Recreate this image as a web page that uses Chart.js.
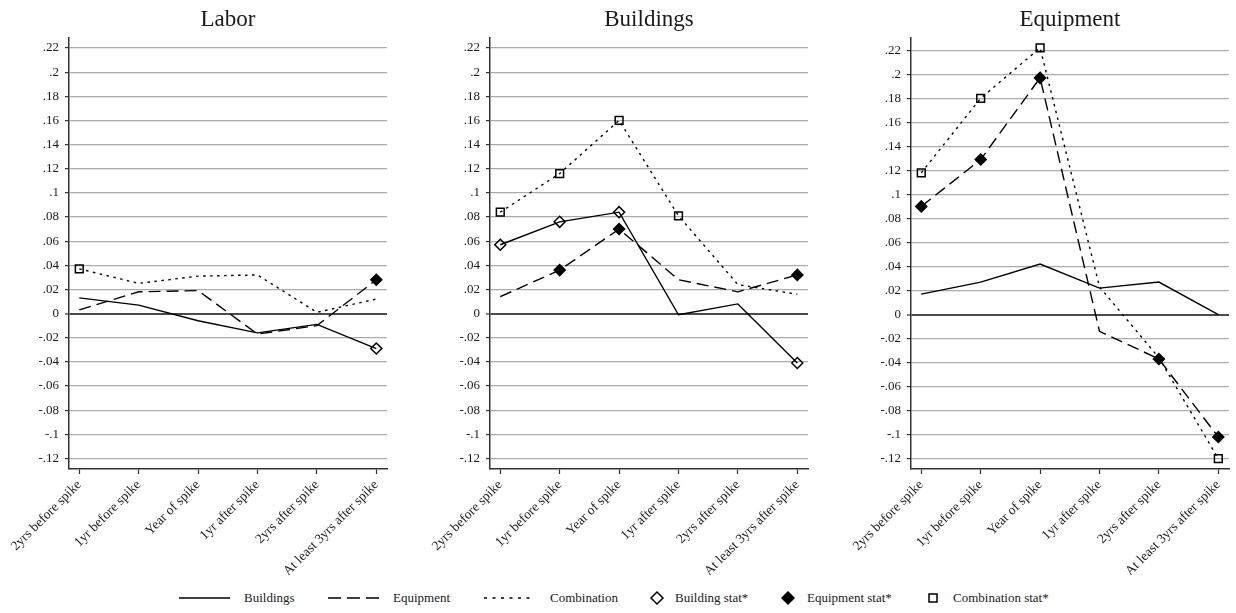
<!DOCTYPE html>
<html>
<head>
<meta charset="utf-8">
<script src="https://cdn.jsdelivr.net/npm/chart.js@4.4.0/dist/chart.umd.min.js"></script>
<style>
  body { margin: 0; background: #fff; width: 1236px; height: 613px; position: relative; overflow: hidden; font-family: "Liberation Serif", "Times New Roman", serif; color: #1a1a1a; }
  canvas.panel { position: absolute; top: 0; }
  #legend { position: absolute; left: 0; top: 588px; width: 1236px; height: 20px; }
  #legend span { position: absolute; top: 0; line-height: 20px; font-size: 13px; white-space: nowrap; }
  #legend svg { position: absolute; left: 0; top: 0; }
</style>
</head>
<body>
<canvas id="labor" class="panel" width="394" height="575" style="left:0px"></canvas>
<canvas id="buildings" class="panel" width="394" height="575" style="left:421px"></canvas>
<canvas id="equipment" class="panel" width="394" height="575" style="left:842px"></canvas>

<div id="legend">
  <svg width="1236" height="20">
    <line x1="179" y1="10" x2="230" y2="10" stroke="#000" stroke-width="1.6"/>
    <line x1="328" y1="10" x2="380" y2="10" stroke="#000" stroke-width="1.6" stroke-dasharray="13 6"/>
    <line x1="484" y1="10" x2="534" y2="10" stroke="#000" stroke-width="1.6" stroke-dasharray="3 5.5"/>
    <polygon points="657,4 663,10 657,16 651,10" fill="none" stroke="#000" stroke-width="1.5"/>
    <polygon points="788,4 794,10 788,16 782,10" fill="#000" stroke="#000" stroke-width="1.5"/>
    <rect x="929" y="6" width="8" height="8" fill="none" stroke="#000" stroke-width="1.5"/>
  </svg>
  <span style="left:244px">Buildings</span>
  <span style="left:393px">Equipment</span>
  <span style="left:550px">Combination</span>
  <span style="left:675px">Building stat*</span>
  <span style="left:807px">Equipment stat*</span>
  <span style="left:953px">Combination stat*</span>
</div>

<script>
// time relative to the spike
const periods = ["2yrs before spike", "1yr before spike", "Year of spike",
                 "1yr after spike", "2yrs after spike", "At least 3yrs after spike"];
const yTicks = [-0.12, -0.1, -0.08, -0.06, -0.04, -0.02, 0, 0.02, 0.04, 0.06,
                0.08, 0.1, 0.12, 0.14, 0.16, 0.18, 0.2, 0.22];

// Labor
const laborBuildings   = [0.013, 0.007, -0.006, -0.016, -0.009, -0.029];
const laborEquipment   = [0.003, 0.018, 0.019, -0.017, -0.010, 0.028];
const laborCombination = [0.037, 0.025, 0.031, 0.032, 0.001, 0.012];
const laborBuildingSig    = [0, 0, 0, 0, 0, 1];
const laborEquipmentSig   = [0, 0, 0, 0, 0, 1];
const laborCombinationSig = [1, 0, 0, 0, 0, 0];

// Buildings
const bldgBuildings   = [0.057, 0.076, 0.084, -0.001, 0.008, -0.041];
const bldgEquipment   = [0.014, 0.036, 0.070, 0.028, 0.018, 0.032];
const bldgCombination = [0.084, 0.116, 0.160, 0.081, 0.024, 0.016];
const bldgBuildingSig    = [1, 1, 1, 0, 0, 1];
const bldgEquipmentSig   = [0, 1, 1, 0, 0, 1];
const bldgCombinationSig = [1, 1, 1, 1, 0, 0];

// Equipment
const equipBuildings   = [0.017, 0.027, 0.042, 0.022, 0.027, 0.000];
const equipEquipment   = [0.090, 0.129, 0.197, -0.014, -0.037, -0.102];
const equipCombination = [0.118, 0.180, 0.222, 0.023, -0.036, -0.120];
const equipBuildingSig    = [0, 0, 0, 0, 0, 0];
const equipEquipmentSig   = [1, 1, 1, 0, 1, 1];
const equipCombinationSig = [1, 1, 1, 0, 0, 1];

const FONT = '"Liberation Serif", "Times New Roman", serif';
const INK = '#1a1a1a';

// stata style: .22, -.12, 0
function fmtTick(v) {
  return String(v).replace('0.', '.');
}

function lineSet(label, vals, dash) {
  return {
    label: label,
    data: vals.map((v, i) => ({ x: i, y: v })),
    borderColor: '#000',
    borderWidth: 1.4,
    borderDash: dash,
    pointRadius: 0,
    tension: 0,
    fill: false,
    order: 2
  };
}

function markSet(label, vals, sig, shape, fillColor, size) {
  return {
    label: label,
    data: vals.map((v, i) => ({ x: i, y: sig[i] ? v : null })),
    showLine: false,
    pointStyle: shape,
    pointRadius: size,
    pointBackgroundColor: fillColor,
    pointBorderColor: '#000',
    pointBorderWidth: 1.5,
    order: 1
  };
}

function makePanel(id, title, b, e, c, bSig, eSig, cSig, yMin, yMax) {
  new Chart(document.getElementById(id), {
    type: 'line',
    data: {
      datasets: [
        lineSet('Buildings', b, []),
        lineSet('Equipment', e, [12, 6]),
        lineSet('Combination', c, [2.5, 4.5]),
        markSet('Building stat*', b, bSig, 'rectRot', 'rgba(0,0,0,0)', 5.5),
        markSet('Equipment stat*', e, eSig, 'rectRot', '#000', 5.5),
        markSet('Combination stat*', c, cSig, 'rect', 'rgba(0,0,0,0)', 5.5)
      ]
    },
    options: {
      responsive: false,
      animation: false,
      layout: { padding: { left: 0, right: 6, top: 0, bottom: 0 } },
      plugins: {
        legend: { display: false },
        tooltip: { enabled: false },
        title: {
          display: true,
          text: title,
          fullSize: false,
          color: INK,
          font: { family: FONT, size: 23, weight: 'normal' },
          padding: { top: 6, bottom: 4.4 }
        }
      },
      scales: {
        x: {
          type: 'linear',
          min: -0.173,
          max: 5.18,
          afterBuildTicks: s => { s.ticks = periods.map((p, i) => ({ value: i })); },
          afterFit: s => { s.height = 106; },
          ticks: {
            callback: v => periods[v],
            autoSkip: false,
            minRotation: 45,
            maxRotation: 45,
            padding: 3,
            color: INK,
            font: { family: FONT, size: 13.5 }
          },
          grid: { drawOnChartArea: false, drawTicks: true, tickLength: 5, tickColor: '#333', tickWidth: 1.2 },
          border: { color: '#333', width: 1.5 }
        },
        y: {
          type: 'linear',
          min: yMin,
          max: yMax,
          afterBuildTicks: s => { s.ticks = yTicks.map(v => ({ value: v })); },
          afterFit: s => { s.width = 69; },
          ticks: {
            callback: v => fmtTick(v),
            autoSkip: false,
            padding: 6,
            color: INK,
            font: { family: FONT, size: 13 }
          },
          grid: {
            color: ctx => (ctx.tick && ctx.tick.value === 0) ? '#4a4a4a' : '#ababab',
            lineWidth: ctx => (ctx.tick && ctx.tick.value === 0) ? 2 : 1.2,
            tickLength: 4,
            tickColor: '#333',
            tickWidth: 1.2
          },
          border: { color: '#333', width: 1.5 }
        }
      }
    }
  });
}

makePanel('labor', 'Labor', laborBuildings, laborEquipment, laborCombination,
  laborBuildingSig, laborEquipmentSig, laborCombinationSig, -0.1288, 0.2283);
makePanel('buildings', 'Buildings', bldgBuildings, bldgEquipment, bldgCombination,
  bldgBuildingSig, bldgEquipmentSig, bldgCombinationSig, -0.1288, 0.2283);
makePanel('equipment', 'Equipment', equipBuildings, equipEquipment, equipCombination,
  equipBuildingSig, equipEquipmentSig, equipCombinationSig, -0.1286, 0.2302);
</script>
</body>
</html>
